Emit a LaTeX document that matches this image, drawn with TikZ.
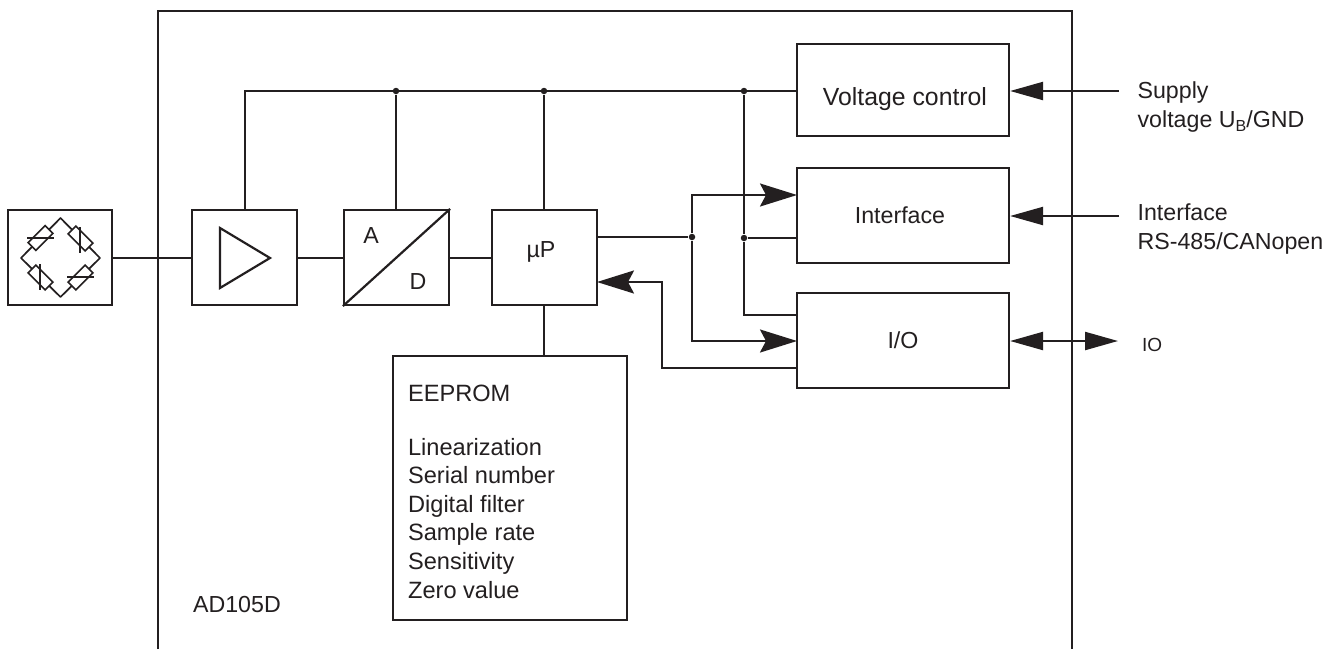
\documentclass[tikz,border=0pt]{standalone}
\usepackage{fontspec}
\setmainfont{Liberation Sans}
\usetikzlibrary{arrows.meta,calc}
\definecolor{ink}{HTML}{231F20}
\tikzset{
  lbl/.style={draw=none,text=ink,font=\fontsize{23.2}{28.6}\selectfont,inner sep=0pt,align=left},
  block/.style={draw=ink,fill=white,rectangle,inner sep=0pt,line width=2.2pt},
  res/.style={draw=ink,fill=white,rectangle,inner sep=0pt,minimum width=24pt,minimum height=11pt,line width=1.7pt},
  dot/.style={circle,fill=ink,draw=none,inner sep=0pt,minimum size=6.5pt},
  inarrow/.style={-{Stealth[length=37pt,width=23pt,inset=6pt,fill=ink]}},
  extarrow/.style={-{Triangle[length=33pt,width=18pt,fill=ink]}},
  extboth/.style={{Triangle[length=33pt,width=18pt,fill=ink]}-{Triangle[length=33pt,width=18pt,fill=ink]}},
  thin bridge/.style={line width=1.7pt}
}
\begin{document}
\begin{tikzpicture}[x=1pt,y=-1pt,color=ink,line width=2.2pt]
\useasboundingbox (0,0) rectangle (1335,649);
% outer frame
\coordinate (fbl) at (158,649);
\coordinate (ftl) at (158,11);
\coordinate (ftr) at (1072,11);
\coordinate (fbr) at (1072,649);
\draw (fbl) -- (ftl) -- (ftr) -- (fbr);
% blocks
\node[block,minimum width=104pt,minimum height=95pt] (bridge) at (60,257.5) {};
\node[block,minimum width=105pt,minimum height=95pt] (amp) at (244.5,257.5) {};
\node[block,minimum width=105pt,minimum height=95pt] (ad) at (396.5,257.5) {};
\node[block,minimum width=105pt,minimum height=95pt] (up) at (544.5,257.5) {};
\node[block,minimum width=234pt,minimum height=264pt] (eeprom) at (510,488) {};
\node[block,minimum width=212pt,minimum height=92pt] (vc) at (903,90) {};
\node[block,minimum width=212pt,minimum height=95pt] (if) at (903,215.5) {};
\node[block,minimum width=212pt,minimum height=95pt] (io) at (903,340.5) {};
% bridge symbol
\coordinate (bl) at (21,258);
\coordinate (bt) at (60.5,218);
\coordinate (br) at (100,258);
\coordinate (bb) at (60.5,297);
\draw[thin bridge,line join=round] (bl) -- (bt) -- (br) -- (bb) -- cycle;
\node[res,rotate=45] (r1) at (40.5,238) {};
\node[res,rotate=-45] (r2) at (80.5,238.5) {};
\node[res,rotate=-45] (r3) at (40.5,277.5) {};
\node[res,rotate=45] (r4) at (80.5,277.5) {};
\coordinate (s1a) at (27,238); \coordinate (s1b) at (54,238);
\coordinate (s2a) at (80,227); \coordinate (s2b) at (80,253);
\coordinate (s3a) at (40,264); \coordinate (s3b) at (40,290);
\coordinate (s4a) at (67,277); \coordinate (s4b) at (94,277);
\draw[thin bridge] (s1a) -- (s1b);
\draw[thin bridge] (s2a) -- (s2b);
\draw[thin bridge] (s3a) -- (s3b);
\draw[thin bridge] (s4a) -- (s4b);
% amplifier triangle
\coordinate (ta) at (220,228);
\coordinate (tb) at (270,258);
\coordinate (tc) at (220,288);
\draw (ta) -- (tb) -- (tc) -- cycle;
% A/D
\draw (ad.south west) -- (ad.north east);
% signal chain
\coordinate (sig) at (300,258);
\draw (bridge.east |- sig) -- (amp.west |- sig);
\draw (amp.east |- sig) -- (ad.west |- sig);
\draw (ad.east |- sig) -- (up.west |- sig);
% power bus
\coordinate (busl) at (245,91);
\node[dot] (j1) at (396,91) {};
\node[dot] (j2) at (544,91) {};
\node[dot] (j3) at (744,91) {};
\coordinate (busr) at (797,91);
\draw (amp.north -| busl) -- (busl) -- (busr);
\draw (j1) -- (ad.north -| j1);
\draw (j2) -- (up.north -| j2);
\draw (up.south -| j2) -- (eeprom.north -| j2);
\node[dot] (j4) at (744,238) {};
\coordinate (ioin) at (797,315);
\coordinate (iocorner) at (744,315);
\draw (j3) -- (j4) -- (iocorner) -- (ioin);
\draw (j4) -- (if.west |- j4);
% data lines
\node[dot] (j5) at (692,237) {};
\coordinate (c1) at (692,195);
\coordinate (c1e) at (797,195);
\coordinate (c2) at (692,341);
\coordinate (c2e) at (797,341);
\draw (up.east |- j5) -- (j5);
\draw[inarrow] (j5) -- (c1) -- (c1e);
\draw[inarrow] (j5) -- (c2) -- (c2e);
\coordinate (f1) at (797,368);
\coordinate (f2) at (662,368);
\coordinate (f3) at (662,282);
\coordinate (f4) at (597,282);
\draw[inarrow] (f1) -- (f2) -- (f3) -- (f4);
% external
\coordinate (e1) at (1119,91);
\coordinate (e2) at (1119,216);
\coordinate (e3) at (1118,341);
\draw[extarrow] (e1) -- (vc.east |- e1);
\draw[extarrow] (e2) -- (if.east |- e2);
\draw[extboth] (io.east |- e3) -- (e3);
% labels
\node[lbl,anchor=base,font=\fontsize{24.8}{28}\selectfont] (tvc) at (905,105) {Voltage control};
\node[lbl,anchor=base] (tif) at (900,223) {Interface};
\node[lbl,anchor=base] (tio) at (903,348) {I/O};
\node[lbl,anchor=base] (la) at (371,243) {A};
\node[lbl,anchor=base] (ld) at (418,289) {D};
\node[lbl,anchor=base] (lup) at (541,257) {µP};
\node[lbl,anchor=base west] (t1) at (1136.5,127) {Supply\\voltage U\raisebox{-4pt}{\fontsize{16}{16}\selectfont B}/GND};
\node[lbl,anchor=base west] (t2) at (1136.5,249) {Interface\\RS-485/CANopen};
\node[lbl,anchor=base west,font=\fontsize{19}{22}\selectfont] (t3) at (1141,351) {IO};
\node[lbl,anchor=base west,font=\fontsize{23.6}{28.6}\selectfont] (t4) at (407,598) {EEPROM\\[25.4pt]Linearization\\Serial number\\Digital filter\\Sample rate\\Sensitivity\\Zero value};
\node[lbl,anchor=base west] (t5) at (192,612) {AD105D};
\end{tikzpicture}
\end{document}
